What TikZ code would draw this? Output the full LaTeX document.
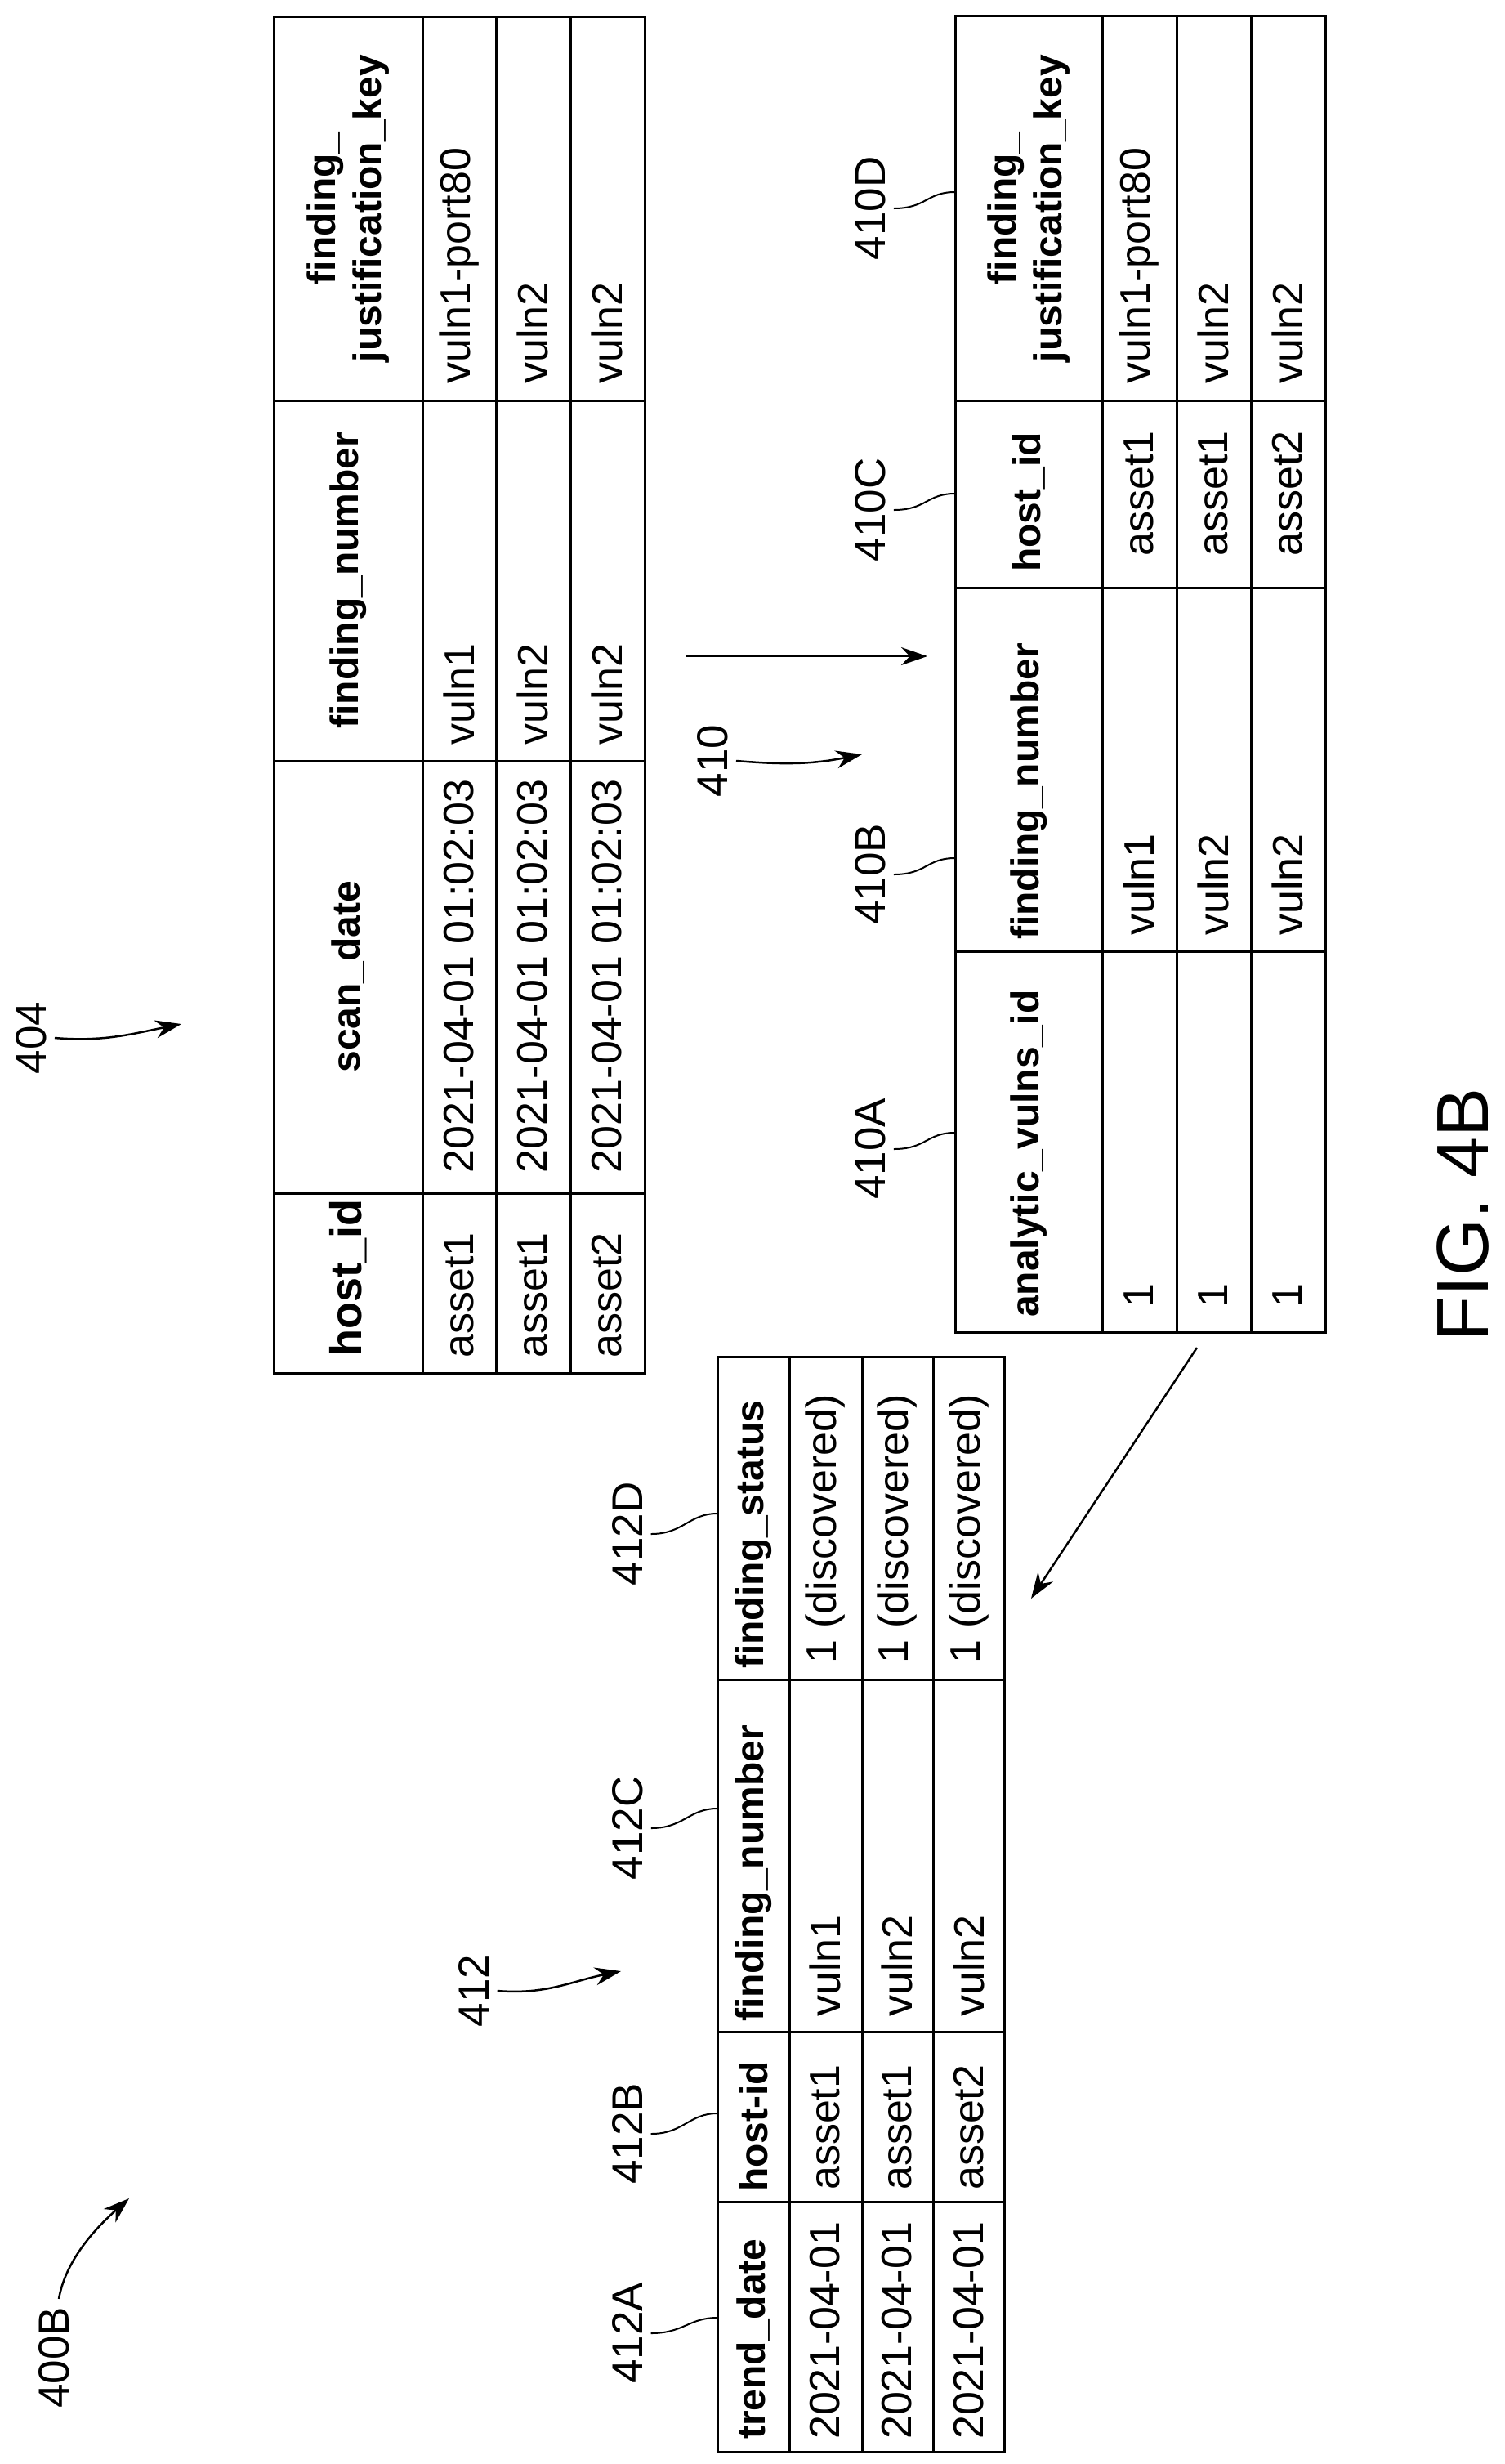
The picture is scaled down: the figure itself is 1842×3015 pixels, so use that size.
\documentclass[tikz,border=0pt]{standalone}
\usepackage{fontspec}
\setmainfont{Liberation Sans}
\usetikzlibrary{arrows.meta}

\tikzset{
  cell/.style={rotate=90,inner sep=0pt,font=\fontsize{52}{60}\selectfont},
  head/.style={cell,align=center,font=\bfseries\fontsize{48}{56}\selectfont},
  lbl/.style={rotate=90,inner sep=0pt,font=\fontsize{53}{60}\selectfont},
  tbl/.style={draw,line width=3pt,outer sep=0pt,inner sep=0pt,anchor=north west},
  grid/.style={line width=3pt},
  lead/.style={line width=2pt},
  flow/.style={line width=2.5pt,-{Stealth[length=32pt,width=22pt]}}
}

\begin{document}
\begin{tikzpicture}[x=1pt,y=-1pt]
\useasboundingbox (0,0) rectangle (1842,3015);

% table 404
\node[tbl,minimum width=454pt,minimum height=1660pt] (tab404) at (335,20) {};
\foreach \x in {517,607,698} \draw[grid] (\x,20) -- (\x,1680);
\foreach \y in {490,931,1460} \draw[grid] (335,\y) -- (789,\y);
\node[head,anchor=west,font=\bfseries\fontsize{54}{60}\selectfont] (h404a) at (426,1660) {host\_id};
\node[head] (h404b) at (426,1195) {scan\_date};
\node[head] (h404c) at (426,710) {finding\_number};
\node[head] (h404d) at (426,255) {finding\_\\justification\_key};
\foreach \x/\h/\f/\j in {562/asset1/vuln1/vuln1-port80,652/asset1/vuln2/vuln2,743/asset2/vuln2/vuln2}{
  \node[cell,anchor=west] (r404a-\x) at (\x,1662) {\h};
  \node[cell,anchor=west] (r404b-\x) at (\x,1436) {2021-04-01 01:02:03};
  \node[cell,anchor=west] (r404c-\x) at (\x,912) {\f};
  \node[cell,anchor=west] (r404d-\x) at (\x,470) {\j};
}

% table 410
\node[tbl,minimum width=453pt,minimum height=1611pt] (tab410) at (1169,19) {};
\foreach \x in {1349,1440,1531} \draw[grid] (\x,19) -- (\x,1630);
\foreach \y in {490,719,1164} \draw[grid] (1169,\y) -- (1622,\y);
\node[head,anchor=west] (h410a) at (1259,1612) {analytic\_vulns\_id};
\node[head,anchor=west] (h410b) at (1259,1150) {finding\_number};
\node[head,anchor=west] (h410c) at (1259,700) {host\_id};
\node[head] (h410d) at (1259,255) {finding\_\\justification\_key};
\foreach \x/\f/\h/\j in {1394/vuln1/asset1/vuln1-port80,1485/vuln2/asset1/vuln2,1576/vuln2/asset2/vuln2}{
  \node[cell,anchor=west] (r410a-\x) at (\x,1600) {1};
  \node[cell,anchor=west] (r410b-\x) at (\x,1145) {\f};
  \node[cell] (r410c-\x) at (\x,604) {\h};
  \node[cell,anchor=west] (r410d-\x) at (\x,470) {\j};
}

% table 412
\node[tbl,minimum width=351pt,minimum height=1340pt] (tab412) at (878,1660) {};
\foreach \x in {966,1055,1142} \draw[grid] (\x,1660) -- (\x,3000);
\foreach \y in {2055,2486,2694} \draw[grid] (878,\y) -- (1229,\y);
\node[head,anchor=west] (h412a) at (922,2985) {trend\_date};
\node[head,anchor=west] (h412b) at (922,2682) {host-id};
\node[head,anchor=west] (h412c) at (922,2474) {finding\_number};
\node[head,anchor=west] (h412d) at (922,2042) {finding\_status};
\foreach \x/\h/\f in {1010/asset1/vuln1,1098/asset1/vuln2,1186/asset2/vuln2}{
  \node[cell,anchor=west] (r412a-\x) at (\x,2985) {2021-04-01};
  \node[cell,anchor=west] (r412b-\x) at (\x,2680) {\h};
  \node[cell,anchor=west] (r412c-\x) at (\x,2468) {\f};
  \node[cell,anchor=west] (r412d-\x) at (\x,2036) {1 (discovered)};
}

% reference numerals
\node[lbl] (l400B) at (66,2885) {400B};
\node[lbl] (l404) at (38,1270) {404};
\node[lbl] (l410) at (872,931) {410};
\node[lbl] (l412) at (580,2436) {412};
\node[lbl] (l410A) at (1065,1406) {410A};
\node[lbl] (l410B) at (1065,1070) {410B};
\node[lbl] (l410C) at (1065,624) {410C};
\node[lbl] (l410D) at (1065,255) {410D};
\node[lbl] (l412A) at (768,2855) {412A};
\node[lbl] (l412B) at (768,2611) {412B};
\node[lbl] (l412C) at (768,2237) {412C};
\node[lbl] (l412D) at (768,1877) {412D};
\node[rotate=90,inner sep=0pt,font=\fontsize{90}{100}\selectfont] (fig) at (1790,1486) {FIG. 4B};

\coordinate (e400B) at (158,2690);
\coordinate (e404) at (222,1253);
\coordinate (e410) at (1055,923);
\coordinate (e412) at (760,2412);
\coordinate (m410s) at (839,803);
\coordinate (m410e) at (1135,803);
\coordinate (m412s) at (1465,1649);
\coordinate (m412e) at (1262,1956);

\draw[flow] ([yshift=10pt,xshift=6pt]l400B.east) .. controls +(8,-45) and +(-45,40) .. (e400B);
\draw[flow] ([xshift=10pt]l404.south) .. controls +(60,5) and +(-60,12) .. (e404);
\draw[flow] ([xshift=10pt]l410.south) .. controls +(60,5) and +(-60,12) .. (e410);
\draw[flow] ([xshift=10pt]l412.south) .. controls +(60,5) and +(-60,12) .. (e412);
\draw[flow] (m410s) -- (m410e);
\draw[flow] (m412s) -- (m412e);

\foreach \n/\y in {410A/1386,410B/1050,410C/604,410D/235}
  \draw[lead] ([xshift=10pt]l\n.south) .. controls +(40,0) and +(-35,0) .. (1169,\y);
\foreach \n/\y in {412A/2836,412B/2586,412C/2213,412D/1852}
  \draw[lead] ([xshift=10pt]l\n.south) .. controls +(40,0) and +(-35,0) .. (878,\y);
\end{tikzpicture}
\end{document}
